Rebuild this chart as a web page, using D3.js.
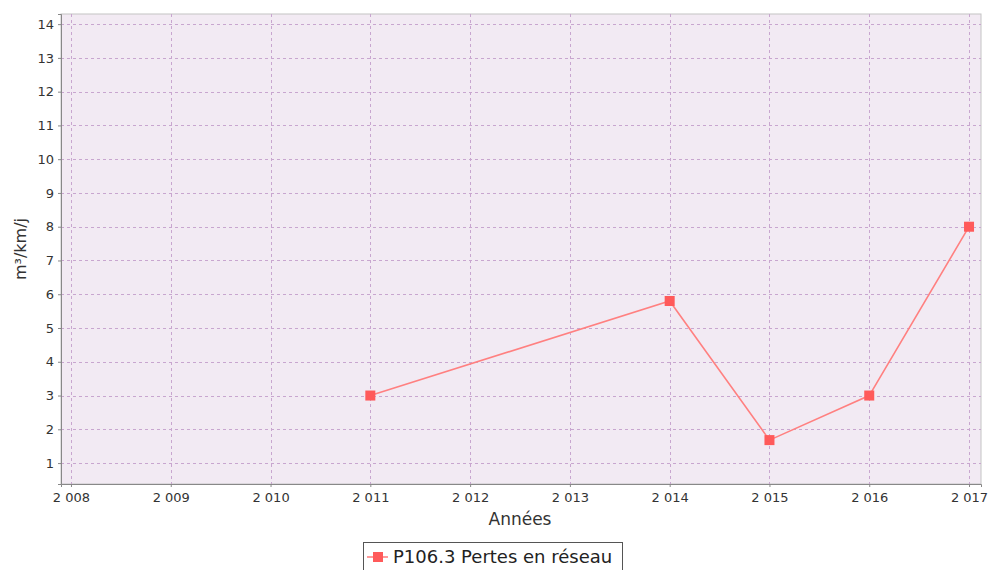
<!DOCTYPE html>
<html><head><meta charset="utf-8">
<script src="https://cdn.jsdelivr.net/npm/d3@7"></script>
<style>body{margin:0;background:#fff;font-family:"DejaVu Sans",sans-serif;}</style>
</head><body><svg id="c" width="988" height="570"></svg>
<script>
const years = [2011, 2014, 2015, 2016, 2017];
const values = [3.0, 5.8, 1.68, 3.0, 8.0];
const xTicks = [2008, 2009, 2010, 2011, 2012, 2013, 2014, 2015, 2016, 2017];
const yTicks = [1,2,3,4,5,6,7,8,9,10,11,12,13,14];
const seriesName = "P106.3 Pertes en réseau";
const xTitle = "Années";
const yTitle = "m³/km/j";

const svg = d3.select("#c");
const L = 61, R = 981, T = 14, B = 484;
const x = d3.scaleLinear().domain([2007.9, 2017.12]).range([L, R]);
const y = d3.scaleLinear().domain([0.38, 14.3]).range([B, T]);
const fmt = v => String(v).replace(/^(\d)(\d{3})$/, "$1 $2");

svg.append("rect").attr("x", L).attr("y", T).attr("width", R - L).attr("height", B - T)
  .attr("fill", "#f2eaf3").attr("stroke", "#c4c4c4");

const grid = svg.append("g").attr("stroke", "#c8a6cf").attr("stroke-width", 1).attr("stroke-dasharray", "3,3");
grid.selectAll("line.h").data(yTicks).join("line")
  .attr("x1", L).attr("x2", R).attr("y1", d => Math.round(y(d)) + 0.5).attr("y2", d => Math.round(y(d)) + 0.5);
grid.selectAll("line.v").data(xTicks).join("line")
  .attr("y1", T).attr("y2", B).attr("x1", d => Math.round(x(d)) + 0.5).attr("x2", d => Math.round(x(d)) + 0.5);

const ya = svg.append("g").attr("transform", `translate(${L},0)`)
  .call(d3.axisLeft(y).tickValues(yTicks).tickSize(3).tickPadding(4).tickFormat(d3.format("d")));
const xa = svg.append("g").attr("transform", `translate(0,${B})`)
  .call(d3.axisBottom(x).tickValues(xTicks).tickSize(3).tickPadding(6).tickFormat(fmt));
[ya, xa].forEach(a => {
  a.select(".domain").attr("stroke", "#888");
  a.selectAll(".tick line").attr("stroke", "#888");
  a.selectAll("text").attr("fill", "#333").style("font-family", "DejaVu Sans").style("font-size", "13px");
});

const data = years.map((yr, i) => ({yr, v: values[i]}));
svg.append("path").datum(data)
  .attr("fill", "none").attr("stroke", "#ff8080").attr("stroke-width", 1.6)
  .attr("d", d3.line().x(d => x(d.yr)).y(d => y(d.v)));
svg.selectAll("rect.pt").data(data).join("rect").attr("class", "pt")
  .attr("x", d => x(d.yr) - 5).attr("y", d => y(d.v) - 5).attr("width", 10).attr("height", 10)
  .attr("fill", "#ff5a5a");

svg.append("text").attr("x", (L + R) / 2 - 1).attr("y", 525).attr("text-anchor", "middle")
  .attr("fill", "#333").style("font-size", "17px").text(xTitle);
svg.append("text").attr("transform", `translate(26,${(T + B) / 2}) rotate(-90)`).attr("text-anchor", "middle")
  .attr("fill", "#333").style("font-size", "16px").text(yTitle);

const lg = svg.append("g");
lg.append("rect").attr("x", 363.5).attr("y", 542.5).attr("width", 259).attr("height", 30)
  .attr("fill", "#fff").attr("stroke", "#555");
lg.append("line").attr("x1", 367).attr("x2", 388).attr("y1", 557).attr("y2", 557).attr("stroke", "#ff8080").attr("stroke-width", 1.6);
lg.append("rect").attr("x", 373).attr("y", 552).attr("width", 10).attr("height", 10).attr("fill", "#ff5a5a");
lg.append("text").attr("x", 393).attr("y", 563).attr("fill", "#222").style("font-size", "18px").text(seriesName);
</script></body></html>
